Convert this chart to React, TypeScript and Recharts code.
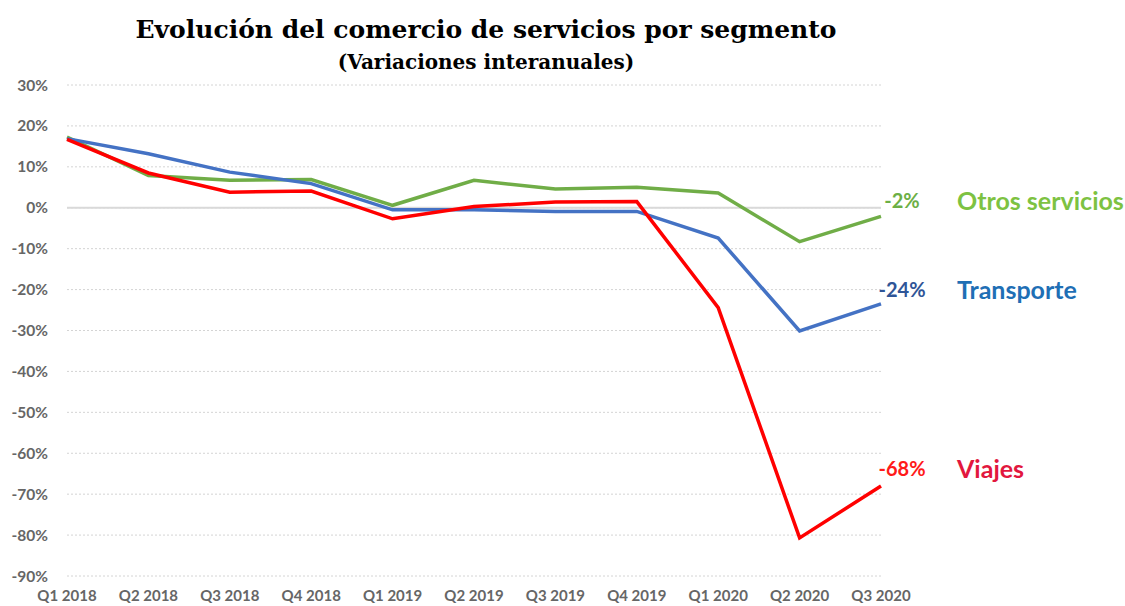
import React from 'react';
import {
  LineChart,
  Line,
  XAxis,
  YAxis,
  CartesianGrid,
  ReferenceLine,
} from 'recharts';

const quarters = [
  'Q1 2018', 'Q2 2018', 'Q3 2018', 'Q4 2018',
  'Q1 2019', 'Q2 2019', 'Q3 2019', 'Q4 2019',
  'Q1 2020', 'Q2 2020', 'Q3 2020',
];

const otrosServicios = [17.3, 7.9, 6.7, 6.9, 0.6, 6.7, 4.6, 5.0, 3.6, -8.3, -2.1];
const transporte = [16.9, 13.2, 8.7, 5.9, -0.5, -0.5, -0.9, -0.9, -7.4, -30.1, -23.5];
const viajes = [16.7, 8.5, 3.8, 4.1, -2.7, 0.3, 1.4, 1.5, -24.4, -80.7, -68.0];

const yTicks = [30, 20, 10, 0, -10, -20, -30, -40, -50, -60, -70, -80, -90];

const endLabels = {
  otros: { value: '-2%', name: 'Otros servicios' },
  transporte: { value: '-24%', name: 'Transporte' },
  viajes: { value: '-68%', name: 'Viajes' },
};

const data = quarters.map((q, i) => ({
  q,
  otros: otrosServicios[i],
  transporte: transporte[i],
  viajes: viajes[i],
}));

const LAST = quarters.length - 1;

// draws the value + series name next to the last point
const makeEndLabel = (
  key: keyof typeof endLabels,
  valueColor: string,
  nameColor: string,
  dy: number
) => (props: any) => {
  const { x, y, index } = props;
  if (index !== LAST) return null;
  const l = endLabels[key];
  return (
    <g>
      <text
        x={x + 21}
        y={y + dy}
        textAnchor="middle"
        dominantBaseline="central"
        fill={valueColor}
        fontFamily="Lato, sans-serif"
        fontWeight="bold"
        fontSize={20}
      >
        {l.value}
      </text>
      <text
        x={x + 76}
        y={y + dy}
        dominantBaseline="central"
        fill={nameColor}
        fontFamily="Lato, sans-serif"
        fontWeight="bold"
        fontSize={25}
      >
        {l.name}
      </text>
    </g>
  );
};

export default function App() {
  return (
    <div style={{ position: 'absolute', left: 0, top: 0, width: 1125, height: 606, background: '#fff' }}>
      <LineChart
        width={1125}
        height={606}
        data={data}
        margin={{ top: 85, right: 244, left: 7, bottom: 0 }}
      >
        <text
          x={486}
          y={38}
          textAnchor="middle"
          fontFamily="'DejaVu Serif', serif"
          fontWeight="bold"
          fontSize={25}
          fill="#000"
        >
          Evolución del comercio de servicios por segmento
        </text>
        <text
          x={486}
          y={69}
          textAnchor="middle"
          fontFamily="'DejaVu Serif', serif"
          fontWeight="bold"
          fontSize={20}
          fill="#000"
        >
          (Variaciones interanuales)
        </text>
        <CartesianGrid vertical={false} stroke="#d4d4d4" strokeDasharray="2 2" />
        <XAxis
          dataKey="q"
          axisLine={false}
          tickLine={false}
          tickSize={0}
          tickMargin={14}
          height={30}
          interval={0}
          tick={{ fill: '#666', fontSize: 15, fontFamily: 'Lato, sans-serif', fontWeight: 'bold' }}
        />
        <YAxis
          domain={[-90, 30]}
          ticks={yTicks}
          width={60}
          axisLine={false}
          tickLine={false}
          tickSize={0}
          tickMargin={19}
          tickFormatter={(v) => `${v}%`}
          tick={{ fill: '#666', fontSize: 15.5, fontFamily: 'Lato, sans-serif', fontWeight: 'bold' }}
        />
        <ReferenceLine y={0} stroke="#d9d9d9" strokeWidth={2} />
        <Line
          dataKey="otros"
          stroke="#70AD47"
          strokeWidth={3.5}
          dot={false}
          isAnimationActive={false}
          label={makeEndLabel('otros', '#6CAF45', '#7DC242', -16)}
        />
        <Line
          dataKey="transporte"
          stroke="#4472C4"
          strokeWidth={3.5}
          dot={false}
          isAnimationActive={false}
          label={makeEndLabel('transporte', '#2F5597', '#1F6FB5', -15)}
        />
        <Line
          dataKey="viajes"
          stroke="#FF0000"
          strokeWidth={3.5}
          dot={false}
          isAnimationActive={false}
          label={makeEndLabel('viajes', '#FF1A1A', '#E2173E', -18)}
        />
      </LineChart>
    </div>
  );
}
